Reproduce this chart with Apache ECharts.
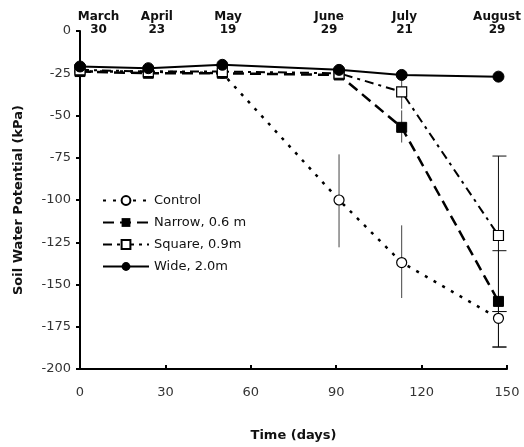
<!DOCTYPE html>
<html>
<head>
<meta charset="utf-8">
<script src="https://cdn.jsdelivr.net/npm/echarts@6/dist/echarts.min.js"></script>
<style>
  html, body { margin: 0; padding: 0; background: #fff; }
  #chart { width: 524px; height: 447px; }
</style>
</head>
<body>
<div id="chart"></div>
<script>
// sampling days (days since March 30)
var days = [0, 24, 50, 91, 113, 147];

// soil water potential, kPa
var control = [-24, -24, -25, -100, -137, -170];
var narrow = [-24, -25, -25, -26, -57, -160];
var square = [-23, -24, -24, -25, -36, -121];
var wide = [-21, -22, -20, -23, -26, -27];

// error bars [day, low, high]
var plainBars = [[91, -73, -128], [113, -115, -158], [113, -26, -46], [113, -47, -66]];
var cappedBars = [[147, -74, -166], [147, -130, -187], [147, -166, -187]];

// top date labels
var dateLabels = ['March\n30', 'April\n23', 'May\n19', 'June\n29', 'July\n21', 'August\n29'];
var datePos = [6.5, 27, 52, 87.5, 114, 146.5];

var font = 'DejaVu Sans';

function pairs(ys) {
    return days.map(function (d, i) { return [d, ys[i]]; });
}

function errRender(withCap) {
    return function (params, api) {
        var top = api.coord([api.value(0), api.value(1)]);
        var bot = api.coord([api.value(0), api.value(2)]);
        var st = { stroke: withCap ? '#111' : '#444', lineWidth: 1 };
        var kids = [{ type: 'line', shape: { x1: top[0], y1: top[1], x2: bot[0], y2: bot[1] }, style: st }];
        if (withCap) {
            kids.push({ type: 'line', shape: { x1: top[0] - 6, y1: top[1], x2: top[0] + 8, y2: top[1] }, style: st });
            kids.push({ type: 'line', shape: { x1: bot[0] - 6, y1: bot[1], x2: bot[0] + 8, y2: bot[1] }, style: st });
        }
        return { type: 'group', children: kids };
    };
}

var myChart = echarts.init(document.getElementById('chart'));

var option = {
    animation: false,
    backgroundColor: '#fff',
    textStyle: { fontFamily: font },
    grid: { left: 80, right: 17, top: 31, bottom: 77 },
    legend: {
        orient: 'vertical',
        left: 97,
        top: 189,
        itemWidth: 46,
        itemHeight: 11,
        itemGap: 9,
        textStyle: { fontFamily: font, fontSize: 13, color: '#111' },
        data: ['Control', 'Narrow, 0.6 m', 'Square, 0.9m', 'Wide, 2.0m']
    },
    xAxis: [
        {
            type: 'value',
            min: 0,
            max: 150,
            interval: 30,
            position: 'bottom',
            name: 'Time (days)',
            nameLocation: 'middle',
            nameGap: 60,
            nameTextStyle: { fontFamily: font, fontWeight: 'bold', fontSize: 13, color: '#111' },
            axisLine: { onZero: false, lineStyle: { color: '#000', width: 2 } },
            axisTick: { inside: true, length: 4, lineStyle: { color: '#000', width: 2 } },
            axisLabel: { margin: 17, fontSize: 13, color: '#333', fontFamily: font },
            splitLine: { show: false }
        },
        {
            type: 'value',
            min: 0,
            max: 150,
            position: 'top',
            axisLine: { show: false, onZero: false },
            axisTick: { show: false },
            minorTick: { show: false },
            splitLine: { show: false },
            axisLabel: {
                customValues: datePos,
                margin: -5,
                fontSize: 12,
                fontWeight: 'bold',
                lineHeight: 13,
                color: '#111',
                fontFamily: font,
                formatter: function (v) {
                    var i = datePos.indexOf(v);
                    return i >= 0 ? dateLabels[i] : '';
                }
            }
        }
    ],
    yAxis: {
        type: 'value',
        min: -200,
        max: 0,
        interval: 25,
        name: 'Soil Water Potential (kPa)',
        nameLocation: 'middle',
        nameGap: 55,
        nameTextStyle: { fontFamily: font, fontWeight: 'bold', fontSize: 13, color: '#111' },
        axisLine: { show: true, onZero: false, lineStyle: { color: '#000', width: 2 } },
        axisTick: { show: true, length: 4, lineStyle: { color: '#000', width: 2 } },
        axisLabel: {
            margin: 9,
            fontSize: 13,
            color: '#333',
            fontFamily: font,
            formatter: function (v) { return v < 0 ? '-' + Math.abs(v) : String(v); }
        },
        splitLine: { show: false }
    },
    series: [
        {
            type: 'custom',
            renderItem: errRender(false),
            data: plainBars,
            encode: { x: 0, y: [1, 2] },
            z: 1,
            silent: true
        },
        {
            type: 'custom',
            renderItem: errRender(true),
            data: cappedBars,
            encode: { x: 0, y: [1, 2] },
            z: 1,
            silent: true
        },
        {
            name: 'Control',
            type: 'line',
            data: pairs(control),
            symbol: 'circle',
            symbolSize: 10,
            lineStyle: { color: '#000', width: 2.5, type: [3, 7] },
            itemStyle: { color: '#fff', borderColor: '#000', borderWidth: 1.2 },
            z: 3
        },
        {
            name: 'Narrow, 0.6 m',
            type: 'line',
            data: pairs(narrow),
            symbol: 'rect',
            symbolSize: 10,
            lineStyle: { color: '#000', width: 2.5, type: [11, 6] },
            itemStyle: { color: '#000', borderColor: '#000' },
            z: 4
        },
        {
            name: 'Square, 0.9m',
            type: 'line',
            data: pairs(square),
            symbol: 'rect',
            symbolSize: 10,
            lineStyle: { color: '#000', width: 2, type: [9, 5, 3, 5] },
            itemStyle: { color: '#fff', borderColor: '#000', borderWidth: 1.2 },
            z: 5
        },
        {
            name: 'Wide, 2.0m',
            type: 'line',
            data: pairs(wide),
            symbol: 'circle',
            symbolSize: 11,
            lineStyle: { color: '#000', width: 2 },
            itemStyle: { color: '#000', borderColor: '#000' },
            z: 6
        }
    ]
};

myChart.setOption(option);
</script>
</body>
</html>
